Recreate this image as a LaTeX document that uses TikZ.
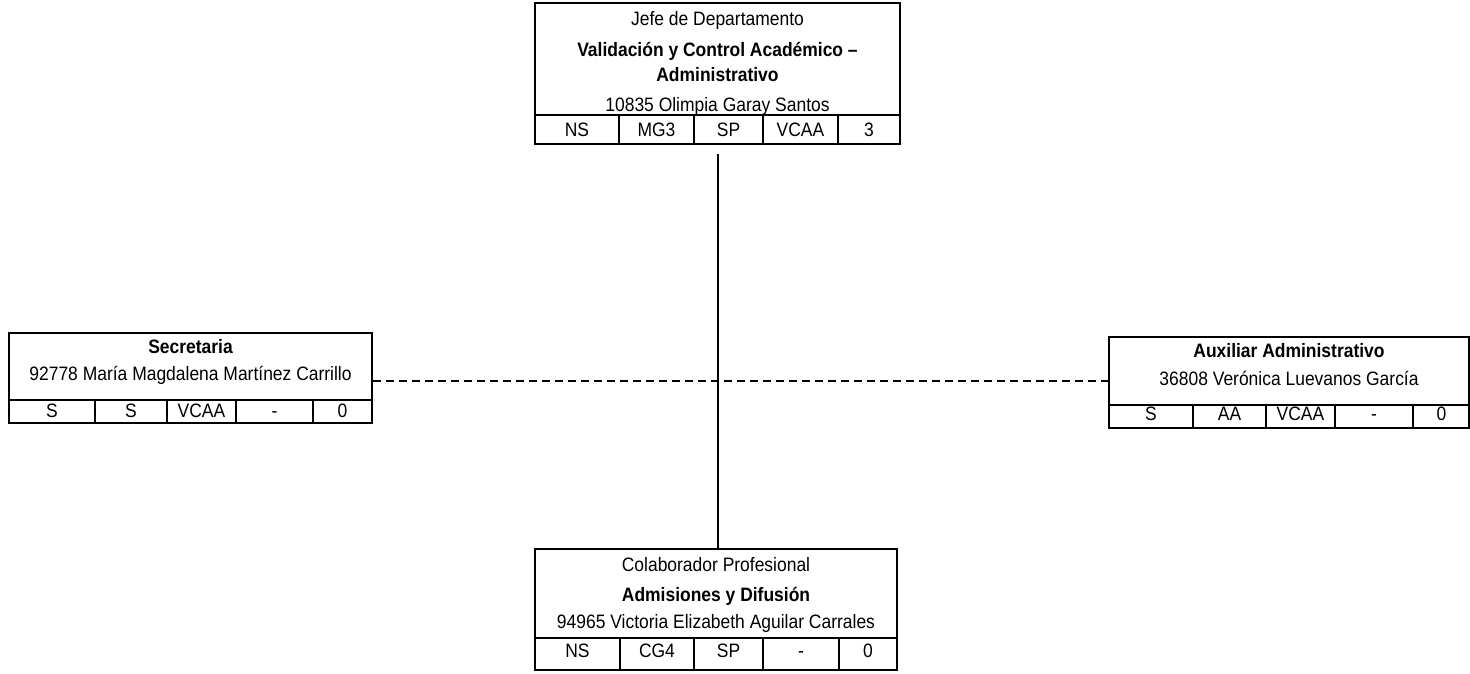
\documentclass[tikz,border=0pt]{standalone}
\usepackage{fontspec}
\setmainfont{Liberation Sans}[FakeStretch=0.9]
\begin{document}
\begin{tikzpicture}[x=1pt,y=-1pt,
  box/.style={draw,line width=2pt,inner sep=0pt,anchor=center},
  sep/.style={line width=2pt},
  lbl/.style={inner sep=0pt,anchor=base,font=\fontsize{19.4}{22}\selectfont},
  blbl/.style={lbl,font=\fontsize{19.4}{22}\selectfont\bfseries},
  conn/.style={line width=2pt},
  dconn/.style={line width=2pt,dash pattern=on 8pt off 5pt}]
\useasboundingbox (0,0) rectangle (1470,674);
% ---- top box ----
\node[box,minimum width=365pt,minimum height=141pt] (jefe) at (717.5,73.5) {};
\draw[sep] (535,115) -- (900,115);
\foreach \x in {619,694,763,838} \draw[sep] (\x,115) -- (\x,144);
\node[lbl]  (j1) at (717.5,26) {Jefe de Departamento};
\node[blbl] (j2) at (717.5,57) {Validación y Control Académico –};
\node[blbl] (j3) at (717.5,82) {Administrativo};
\node[lbl]  (j4) at (717.5,112) {10835 Olimpia Garay Santos};
\node[lbl] (jc1) at (577,137) {NS};
\node[lbl] (jc2) at (656.5,137) {MG3};
\node[lbl] (jc3) at (728.5,137) {SP};
\node[lbl] (jc4) at (800.5,137) {VCAA};
\node[lbl] (jc5) at (869,137) {3};
% ---- bottom box ----
\node[box,minimum width=362pt,minimum height=121pt] (colab) at (716,609.5) {};
\draw[sep] (535,638) -- (897,638);
\foreach \x in {620,694,763,839} \draw[sep] (\x,638) -- (\x,670);
\node[lbl]  (c1) at (716,571) {Colaborador Profesional};
\node[blbl] (c2) at (716,601) {Admisiones y Difusión};
\node[lbl]  (c3) at (716,628) {94965 Victoria Elizabeth Aguilar Carrales};
\node[lbl] (cc1) at (577.5,657) {NS};
\node[lbl] (cc2) at (657,657) {CG4};
\node[lbl] (cc3) at (728.5,657) {SP};
\node[lbl] (cc4) at (801,657) {-};
\node[lbl] (cc5) at (868,657) {0};
% ---- left box ----
\node[box,minimum width=363pt,minimum height=90pt] (secr) at (190.5,378) {};
\draw[sep] (9,400) -- (372,400);
\foreach \x in {95,167,236,313} \draw[sep] (\x,400) -- (\x,423);
\node[blbl] (s1) at (190.5,353) {Secretaria};
\node[lbl]  (s2) at (190.5,380) {92778 María Magdalena Martínez Carrillo};
\node[lbl] (sc1) at (52,417) {S};
\node[lbl] (sc2) at (131,417) {S};
\node[lbl] (sc3) at (201.5,417) {VCAA};
\node[lbl] (sc4) at (274.5,417) {-};
\node[lbl] (sc5) at (342.5,417) {0};
% ---- right box ----
\node[box,minimum width=360pt,minimum height=91pt] (aux) at (1289,382.5) {};
\draw[sep] (1109,405) -- (1469,405);
\foreach \x in {1193,1266,1335,1413} \draw[sep] (\x,405) -- (\x,428);
\node[blbl] (a1) at (1289,357) {Auxiliar Administrativo};
\node[lbl]  (a2) at (1289,385) {36808 Verónica Luevanos García};
\node[lbl] (ac1) at (1151,420) {S};
\node[lbl] (ac2) at (1229.5,420) {AA};
\node[lbl] (ac3) at (1300.5,420) {VCAA};
\node[lbl] (ac4) at (1374,420) {-};
\node[lbl] (ac5) at (1441.5,420) {0};
% ---- connectors ----
\draw[conn] ([yshift=-9pt]jefe.south) -- (jefe.south |- colab.north);
\draw[dconn] ([yshift=-3pt]secr.east) -- ([yshift=-3pt]secr.east -| aux.west);
\end{tikzpicture}
\end{document}
